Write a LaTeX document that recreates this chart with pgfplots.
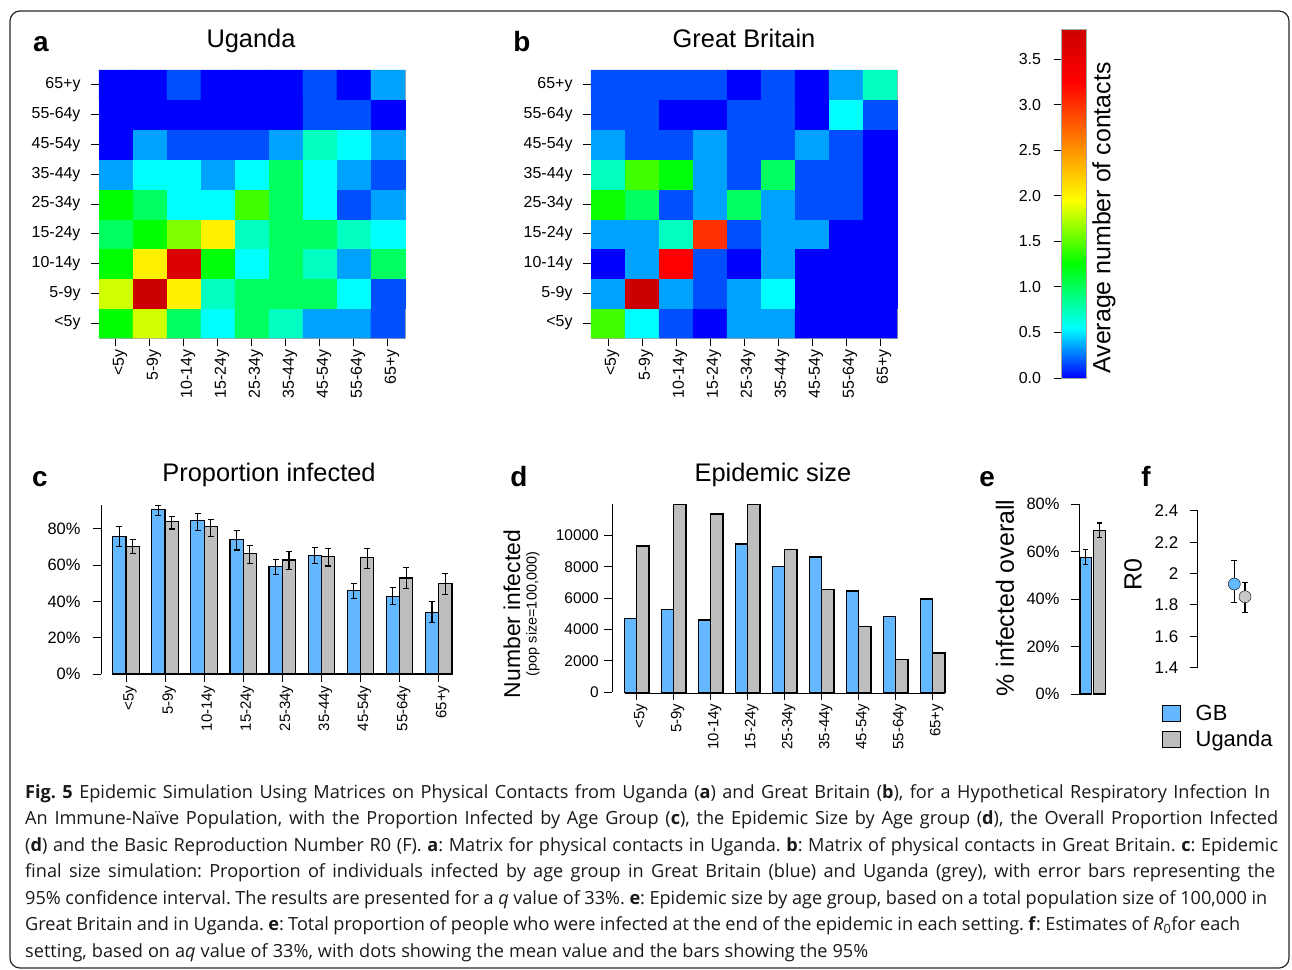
\documentclass[border=0pt]{standalone}
\usepackage{fontspec}
\setmainfont{Liberation Sans}
\newfontfamily\capfont{Open Sans}
\usepackage{pgfplots}
\pgfplotsset{compat=1.18}
\usepackage{pgfplotstable}

\definecolor{gbblue}{RGB}{99,184,255}
\definecolor{ugrey}{RGB}{190,190,190}
\newcommand{\fs}[1]{\fontsize{#1}{#1}\selectfont}

\pgfplotsset{
  colormap={contacts}{rgb255(0pt)=(0,0,255) rgb255(55pt)=(0,255,255) rgb255(125pt)=(0,255,0)
    rgb255(195pt)=(255,255,0) rgb255(325pt)=(255,0,0) rgb255(383pt)=(204,0,0)},
  rplot/.style={scale only axis, tick align=outside, major tick length=8bp,
    tick style={black, line width=1bp}, axis line style={black, line width=1bp},
    /pgf/number format/assume math mode=true, ticklabel style={font=\fs{15}},
    clip=false},
  heat/.style={rplot, width=306bp, height=268bp, enlargelimits=false,
    xmin=-0.5, xmax=8.5, ymin=-0.5, ymax=8.5, tick pos=left,
    xtick={0,...,8}, ytick={0,...,8},
    xticklabels={<5y,5-9y,10-14y,15-24y,25-34y,35-44y,45-54y,55-64y,65+y},
    yticklabels={<5y,5-9y,10-14y,15-24y,25-34y,35-44y,45-54y,55-64y,65+y},
    xticklabel style={rotate=90, anchor=east, font=\fs{16}, yshift=-4bp},
    yticklabel style={xshift=-7bp, font=\fs{16}},
    axis line style={gray!70, line width=0.8bp},
    point meta min=0, point meta max=3.83, colormap name=contacts},
  bars/.style={rplot, axis y line*=left, axis x line*=bottom,
    x axis line style={draw=none}, xtick={0,...,8},
    xticklabels={<5y,5-9y,10-14y,15-24y,25-34y,35-44y,45-54y,55-64y,65+y},
    xticklabel style={rotate=90, anchor=east, yshift=-4bp}},
  ebar/.style={error bars/.cd, y dir=both, y explicit,
    error bar style={line width=1.1bp, black},
    error mark options={rotate=90, mark size=#1, line width=1.1bp}},
}

% contact matrices: x = contacted age group, y = participant age group
\pgfplotstableread[row sep=\\]{
x y c\\
0 0 1.25\\ 1 0 1.82\\ 2 0 0.99\\ 3 0 0.55\\ 4 0 0.99\\ 5 0 0.72\\ 6 0 0.35\\ 7 0 0.35\\ 8 0 0.17\\
0 1 1.82\\ 1 1 3.83\\ 2 1 2.02\\ 3 1 0.72\\ 4 1 0.99\\ 5 1 0.99\\ 6 1 0.99\\ 7 1 0.55\\ 8 1 0.17\\
0 2 1.25\\ 1 2 2.02\\ 2 2 3.64\\ 3 2 1.22\\ 4 2 0.55\\ 5 2 0.99\\ 6 2 0.72\\ 7 2 0.35\\ 8 2 0.99\\
0 3 0.99\\ 1 3 1.25\\ 2 3 1.60\\ 3 3 2.02\\ 4 3 0.72\\ 5 3 0.99\\ 6 3 0.99\\ 7 3 0.72\\ 8 3 0.55\\
0 4 1.25\\ 1 4 0.99\\ 2 4 0.55\\ 3 4 0.55\\ 4 4 1.43\\ 5 4 0.99\\ 6 4 0.55\\ 7 4 0.17\\ 8 4 0.35\\
0 5 0.35\\ 1 5 0.55\\ 2 5 0.55\\ 3 5 0.35\\ 4 5 0.55\\ 5 5 0.99\\ 6 5 0.55\\ 7 5 0.35\\ 8 5 0.17\\
0 6 0.00\\ 1 6 0.35\\ 2 6 0.17\\ 3 6 0.17\\ 4 6 0.17\\ 5 6 0.35\\ 6 6 0.72\\ 7 6 0.55\\ 8 6 0.35\\
0 7 0.00\\ 1 7 0.00\\ 2 7 0.00\\ 3 7 0.00\\ 4 7 0.00\\ 5 7 0.00\\ 6 7 0.17\\ 7 7 0.17\\ 8 7 0.00\\
0 8 0.00\\ 1 8 0.00\\ 2 8 0.17\\ 3 8 0.00\\ 4 8 0.00\\ 5 8 0.00\\ 6 8 0.17\\ 7 8 0.00\\ 8 8 0.35\\
}\uganda

\pgfplotstableread[row sep=\\]{
x y c\\
0 0 1.43\\ 1 0 0.55\\ 2 0 0.17\\ 3 0 0.00\\ 4 0 0.35\\ 5 0 0.35\\ 6 0 0.00\\ 7 0 0.00\\ 8 0 0.00\\
0 1 0.35\\ 1 1 3.83\\ 2 1 0.35\\ 3 1 0.17\\ 4 1 0.35\\ 5 1 0.55\\ 6 1 0.00\\ 7 1 0.00\\ 8 1 0.00\\
0 2 0.00\\ 1 2 0.35\\ 2 2 3.25\\ 3 2 0.17\\ 4 2 0.00\\ 5 2 0.35\\ 6 2 0.00\\ 7 2 0.00\\ 8 2 0.00\\
0 3 0.35\\ 1 3 0.35\\ 2 3 0.72\\ 3 3 3.00\\ 4 3 0.17\\ 5 3 0.35\\ 6 3 0.35\\ 7 3 0.00\\ 8 3 0.00\\
0 4 1.28\\ 1 4 0.99\\ 2 4 0.17\\ 3 4 0.35\\ 4 4 0.99\\ 5 4 0.35\\ 6 4 0.17\\ 7 4 0.17\\ 8 4 0.00\\
0 5 0.72\\ 1 5 1.43\\ 2 5 1.22\\ 3 5 0.35\\ 4 5 0.17\\ 5 5 0.99\\ 6 5 0.17\\ 7 5 0.17\\ 8 5 0.00\\
0 6 0.35\\ 1 6 0.17\\ 2 6 0.17\\ 3 6 0.35\\ 4 6 0.17\\ 5 6 0.17\\ 6 6 0.35\\ 7 6 0.17\\ 8 6 0.00\\
0 7 0.17\\ 1 7 0.17\\ 2 7 0.00\\ 3 7 0.00\\ 4 7 0.17\\ 5 7 0.17\\ 6 7 0.00\\ 7 7 0.55\\ 8 7 0.17\\
0 8 0.17\\ 1 8 0.17\\ 2 8 0.17\\ 3 8 0.17\\ 4 8 0.00\\ 5 8 0.17\\ 6 8 0.00\\ 7 8 0.35\\ 8 8 0.72\\
}\britain

% proportion infected by age group (%), with 95% CI half-widths
\pgfplotstableread{
x gb  gbp gbm ug  ugp ugm
0 75.7 5.6 5.5 70.2 4.1 3.6
1 90.9 2.3 3.7 84.0 2.8 4.0
2 84.6 4.1 5.2 81.3 3.7 5.6
3 74.1 4.9 5.7 66.4 4.6 5.4
4 59.2 4.2 4.2 62.9 4.6 5.1
5 65.5 4.4 4.5 64.9 4.4 5.3
6 46.0 4.0 4.2 64.2 5.1 5.9
7 42.9 4.9 4.8 53.0 5.9 5.7
8 34.0 5.9 5.7 50.0 5.6 6.0
}\propinf

% epidemic size by age group (pop size 100,000)
\pgfplotstableread{
x gb   ug
0 4700 9340
1 5300 12000
2 4620 11380
3 9470 12000
4 8020 9110
5 8640 6570
6 6470 4210
7 4850 2090
8 5960 2510
}\episize

\begin{document}
\frenchspacing
\begin{tikzpicture}
\useasboundingbox (0,0) rectangle (1292bp,-970bp);
\draw[rounded corners=10bp, line width=1.2bp, black!85] (10bp,-11bp) rectangle (1289bp,-968bp);

% panel letters and titles
\node[anchor=base, font=\fs{28}\bfseries] at (41bp,-51bp) {a};
\node[anchor=base, font=\fs{28}\bfseries] at (522bp,-51bp) {b};
\node[anchor=base, font=\fs{28}\bfseries] at (40bp,-486bp) {c};
\node[anchor=base, font=\fs{28}\bfseries] at (519bp,-486bp) {d};
\node[anchor=base, font=\fs{28}\bfseries] at (987bp,-486bp) {e};
\node[anchor=base, font=\fs{28}\bfseries] at (1146bp,-486bp) {f};
\node[anchor=base, font=\fs{25.5}] at (251bp,-47bp) {Uganda};
\node[anchor=base, font=\fs{25.5}] at (744bp,-47bp) {Great Britain};
\node[anchor=base, font=\fs{25.5}] at (269bp,-481bp) {Proportion infected};
\node[anchor=base, font=\fs{25.5}] at (773bp,-481bp) {Epidemic size};

% axis titles
\node[rotate=90, font=\fs{25}] at (1104bp,-218bp) {Average number of contacts};
\node[rotate=90, font=\fs{23}] at (512bp,-614bp) {Number infected};
\node[rotate=90, font=\fs{14.5}] at (533bp,-614bp) {(pop size=100,000)};
\node[rotate=90, font=\fs{25}] at (1005bp,-598bp) {\% infected overall};
\node[rotate=90, font=\fs{25}] at (1133bp,-575bp) {R0};

% a: Uganda
\begin{axis}[heat, at={(99bp,-338bp)}, anchor=south west]
  \addplot[matrix plot*, mesh/cols=9, point meta=explicit] table[x=x, y=y, meta=c] {\uganda};
\end{axis}

% b: Great Britain, with the shared colour bar
\begin{axis}[heat, at={(591bp,-338bp)}, anchor=south west,
  colorbar, colorbar/width=25bp,
  colorbar style={at={(parent axis.south east)}, anchor=south west,
    xshift=156bp, yshift=-40bp, scale only axis, height=349bp,
    ytick={0,0.5,...,3.5}, ytick pos=left, yticklabel pos=left,
    tick align=outside, major tick length=8bp, tick style={black, line width=1bp},
    axis line style={gray!70, line width=0.8bp},
    yticklabel style={font=\fs{16}, xshift=-9bp, /pgf/number format/.cd, fixed, fixed zerofill, precision=1,
      assume math mode=true}}]
  \addplot[matrix plot*, mesh/cols=9, point meta=explicit] table[x=x, y=y, meta=c] {\britain};
\end{axis}

% c: proportion infected
\begin{axis}[bars, at={(101bp,-674bp)}, anchor=south west, width=353.3bp, height=168.6bp,
  xmin=-0.64, xmax=8.4, ymin=0, ymax=93, ytick={0,20,...,80},
  yticklabel={\pgfmathprintnumber{\tick}\%}, yticklabel style={font=\fs{16.5}, xshift=-9bp},
  ybar=0pt, bar width=13.3bp]
  \addplot[fill=gbblue, draw=black, line width=1.2bp, ebar=3bp]
    table[x=x, y=gb, y error plus=gbp, y error minus=gbm] {\propinf};
  \addplot[fill=ugrey, draw=black, line width=1.2bp, ebar=3bp]
    table[x=x, y=ug, y error plus=ugp, y error minus=ugm] {\propinf};
  \draw[line width=1.2bp] (axis cs:-0.34,0) -- (axis cs:8.34,0);
\end{axis}

% d: epidemic size
\begin{axis}[bars, at={(612.3bp,-692.3bp)}, anchor=south west, width=333bp, height=188bp,
  xmin=-0.66, xmax=8.34, ymin=0, ymax=12000, ytick={0,2000,...,10000},
  scaled y ticks=false, yticklabel style={font=\fs{15.5}, xshift=-2bp, /pgf/number format/set thousands separator={}},
  ybar=0pt, bar width=12.3bp]
  \addplot[fill=gbblue, draw=black, line width=1.2bp] table[x=x, y=gb] {\episize};
  \addplot[fill=ugrey, draw=black, line width=1.2bp] table[x=x, y=ug] {\episize};
  \draw[line width=1.2bp] (axis cs:-0.33,-60) -- (axis cs:8.33,-60);
\end{axis}

% e: overall proportion infected
\begin{axis}[rplot, axis y line*=left, axis x line=none, at={(1079bp,-694bp)}, anchor=south west,
  width=26bp, height=189.7bp, xmin=-0.51, xmax=1.43, ymin=0, ymax=80, ytick={0,20,...,80},
  yticklabel={\pgfmathprintnumber{\tick}\%}, yticklabel style={font=\fs{16.5}, xshift=-8bp},
  ybar, bar width=11.7bp, bar shift=0pt]
  \addplot[fill=gbblue, draw=black, line width=1.2bp, ebar=2.5bp]
    coordinates {(0,57.7) +- (3.1,3.1)};
  \addplot[fill=ugrey, draw=black, line width=1.2bp, ebar=2.5bp]
    coordinates {(1,69.1) +- (3.0,3.0)};
\end{axis}

% f: R0
\begin{axis}[rplot, axis y line*=left, axis x line=none, at={(1197.7bp,-667.7bp)}, anchor=south west,
  width=60bp, height=157bp, xmin=0, xmax=60, ymin=1.4, ymax=2.4, ytick={1.4,1.6,...,2.4},
  yticklabel style={font=\fs{17}, xshift=-8bp},
  legend style={at={(axis description cs:-0.6,-0.225)}, anchor=north west, draw=none,
    font=\fs{22}, row sep=5bp, inner sep=0pt},
  legend cell align=left]
  \addlegendimage{legend image code/.code={\draw[fill=gbblue, draw=black, line width=1.2bp] (0bp,-8bp) rectangle (18bp,8bp); \path (31bp,0bp);}}
  \addlegendentry{GB}
  \addlegendimage{legend image code/.code={\draw[fill=ugrey, draw=black, line width=1.2bp] (0bp,-8bp) rectangle (18bp,8bp); \path (31bp,0bp);}}
  \addlegendentry{Uganda}
  \addplot[only marks, mark=*, mark size=6bp, mark options={fill=gbblue, draw=none}, ebar=3bp]
    coordinates {(36.6,1.933) += (0,0.147) -= (0,0.117)};
  \addplot[only marks, mark=*, mark size=6bp, mark options={fill=ugrey!85!white, draw=none}, ebar=3bp]
    coordinates {(47.3,1.852) += (0,0.092) -= (0,0.099)};
\end{axis}

% caption
\begin{scope}[every node/.style={anchor=base west, inner sep=0pt, font=\capfont\fs{18.2}, text=black!90}]
\node at (25bp,-798bp) {\makebox[1245bp][s]{\textbf{Fig. 5} Epidemic Simulation Using Matrices on Physical Contacts from Uganda (\textbf{a}) and Great Britain (\textbf{b}), for a Hypothetical Respiratory Infection In}};
\node at (25bp,-824.5bp) {\makebox[1253bp][s]{An Immune-Naïve Population, with the Proportion Infected by Age Group (\textbf{c}), the Epidemic Size by Age group (\textbf{d}), the Overall Proportion Infected}};
\node at (25bp,-851bp) {\makebox[1253bp][s]{(\textbf{d}) and the Basic Reproduction Number R0 (F). \textbf{a}: Matrix for physical contacts in Uganda. \textbf{b}: Matrix of physical contacts in Great Britain. \textbf{c}: Epidemic}};
\node at (25bp,-877.5bp) {\makebox[1250bp][s]{final size simulation: Proportion of individuals infected by age group in Great Britain (blue) and Uganda (grey), with error bars representing the}};
\node at (25bp,-904bp) {\makebox[1242bp][s]{95\% confidence interval. The results are presented for a \textit{q} value of 33\%. \textbf{e}: Epidemic size by age group, based on a total population size of 100,000 in}};
\node at (25bp,-930.5bp) {\makebox[1215bp][s]{Great Britain and in Uganda. \textbf{e}: Total proportion of people who were infected at the end of the epidemic in each setting. \textbf{f}: Estimates of \textit{R}\textsubscript{0}for each}};
\node at (25bp,-957bp) {\makebox[843bp][s]{setting, based on a\textit{q} value of 33\%, with dots showing the mean value and the bars showing the 95\%}};
\end{scope}
\end{tikzpicture}
\end{document}
